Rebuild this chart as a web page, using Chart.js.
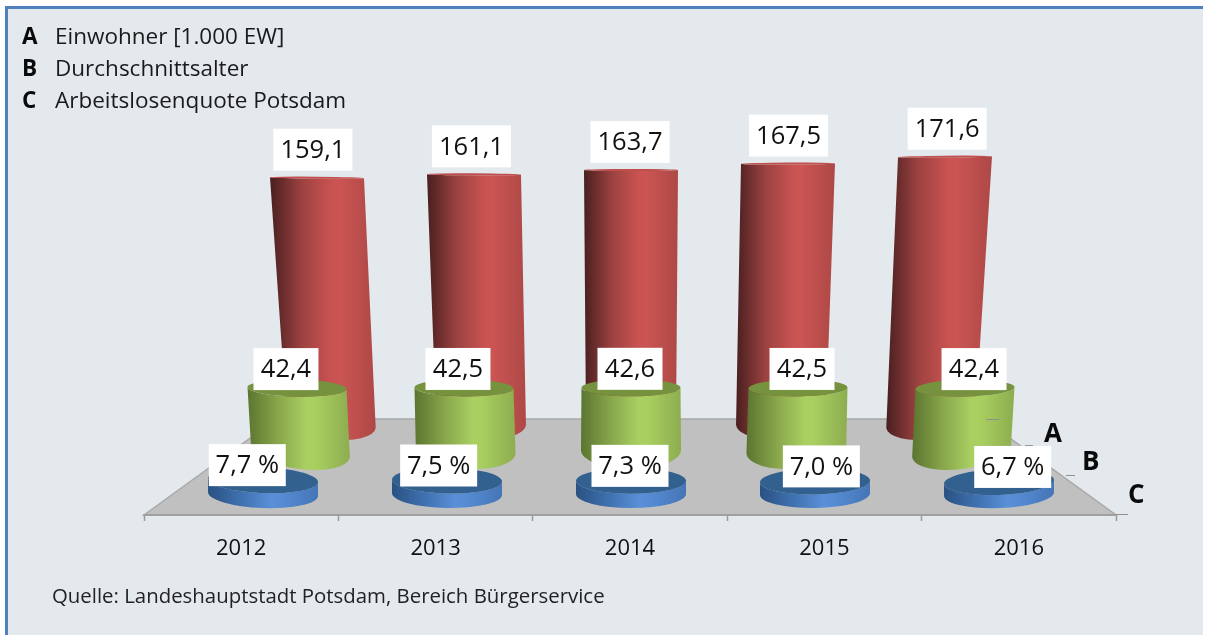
<!DOCTYPE html>
<html lang="de">
<head>
<meta charset="utf-8">
<title>Potsdam</title>
<script src="https://cdn.jsdelivr.net/npm/chart.js@4"></script>
<style>
html,body{margin:0;padding:0;background:#fff;width:1208px;height:635px;overflow:hidden}
#frame{position:absolute;left:5px;top:6px;width:1198px;height:629px;background:#e4e9ee;border-left:3px solid #4f81bd;border-top:3px solid #4f81bd;box-sizing:border-box}
canvas{position:absolute;left:0;top:0}
</style>
</head>
<body>
<div id="frame"></div>
<canvas id="c" width="1208" height="635"></canvas>
<script>
const years = ['2012', '2013', '2014', '2015', '2016'];
const einwohner = [159.1, 161.1, 163.7, 167.5, 171.6];
const durchschnittsalter = [42.4, 42.5, 42.6, 42.5, 42.4];
const arbeitslosenquote = [7.7, 7.5, 7.3, 7.0, 6.7];
const legendKeys = ['A', 'B', 'C'];
const legendTexts = ['Einwohner [1.000 EW]', 'Durchschnittsalter', 'Arbeitslosenquote Potsdam'];
const sourceText = 'Quelle: Landeshauptstadt Potsdam, Bereich B\u00fcrgerservice';

const FONT = '"Open Sans"';
const L = 144, R = 1116, B = 515;
const midYear = 2014;

function xRange(c, s) { return {type:'linear', display:false, offset:false, bounds:'data', min: midYear-(c-L)/s, max: midYear+(R-c)/s}; }
function yRange(zero, k) { return {type:'linear', display:false, bounds:'data', beginAtZero:false, min: -(B-zero)/k, max: zero/k}; }
const decimal = v => v.toFixed(1).replace('.', ',');

/* perspective settings per depth row */
const rows = [
  {base:{spread:.955, w:90, ry:17, tilt:.00043}, topRy:1, topTilt:.00003, topW:94,
   grad:['#4a1f1f','#9c4241','#c95351','#cb5553','#ad4846'], top:'#bd4f4d',
   labelSpread:1.01, labelDy:-28, labelW:79, labelH:42, labelC:630, fmt:decimal},
  {base:{spread:.99, w:100, ry:19, tilt:.00042}, topRy:8.5, topTilt:.00006, topW:99,
   grad:['#5b7530','#88a64b','#aad062','#a9cf60','#8dad50'], top:'#76923f',
   labelSpread:1.03, labelDy:-19, labelW:65, labelH:42, labelC:630, fmt:decimal},
  {base:{spread:1, w:110, ry:14, tilt:.0001}, topRy:13, topTilt:.0001, topW:110,
   grad:['#2a5182','#3f71b0','#5a90d8','#578cd4','#4475b6'], top:'#32608f',
   labelSpread:1.04, labelDy:-15, labelW:77, labelH:42, labelC:630, fmt:v => decimal(v)+' %'}
];

function tiltPt(cx, cy, rx, rot, sign) { return [cx+sign*rx*Math.cos(rot), cy+sign*rx*Math.sin(rot)]; }

function drawCylinder(ctx, el, row, c) {
  const dx = el.x-c;
  const bx = c+dx*row.base.spread, by = el.base;
  const brx = row.base.w/2, trx = row.topW/2;
  const bRot = -dx*row.base.tilt, tRot = -dx*row.topTilt;
  const tl = tiltPt(el.x, el.y, trx, tRot, -1), tr = tiltPt(el.x, el.y, trx, tRot, 1);
  const bl = tiltPt(bx, by, brx, bRot, -1), br = tiltPt(bx, by, brx, bRot, 1);
  const x0 = Math.min(tl[0], bl[0]), x1 = Math.max(tr[0], br[0]);
  const g = ctx.createLinearGradient(x0, 0, x1, 0);
  row.grad.forEach((col, i) => g.addColorStop([0,.3,.58,.66,1][i], col));
  ctx.beginPath();
  ctx.moveTo(tl[0], tl[1]);
  ctx.lineTo(bl[0], bl[1]);
  ctx.ellipse(bx, by, brx, row.base.ry, bRot, Math.PI, 0, true);
  ctx.lineTo(tr[0], tr[1]);
  ctx.ellipse(el.x, el.y, trx, row.topRy, tRot, 0, Math.PI, false);
  ctx.closePath();
  ctx.fillStyle = g;
  ctx.fill();
  ctx.beginPath();
  ctx.ellipse(el.x, el.y, trx, row.topRy, tRot, 0, Math.PI*2);
  ctx.fillStyle = row.top;
  ctx.fill();
}

const scene = {
  id:'scene',
  beforeDatasetDraw() { return false; },
  beforeDatasetsDraw(chart) {
    const ctx = chart.ctx, a = chart.chartArea;
    const backY = 419, slope = 1.38, bottom = a.bottom;
    const inset = (bottom-backY)*slope;
    ctx.save();
    ctx.beginPath();
    ctx.moveTo(a.left, bottom);
    ctx.lineTo(a.left+inset, backY);
    ctx.lineTo(a.right-inset, backY);
    ctx.lineTo(a.right, bottom);
    ctx.closePath();
    ctx.fillStyle = '#c0c0c0';
    ctx.fill();
    ctx.strokeStyle = '#a8a8a8';
    ctx.lineWidth = 1.5;
    ctx.stroke();
    ctx.strokeStyle = '#a0a0a0';
    ctx.lineWidth = 2;
    ctx.beginPath();
    ctx.moveTo(a.left, bottom);
    ctx.lineTo(a.right, bottom);
    ctx.stroke();
    ctx.restore();
  },
  afterDatasetsDraw(chart) {
    const ctx = chart.ctx, a = chart.chartArea;
    ctx.save();
    rows.forEach((row, i) => {
      chart.getDatasetMeta(i).data.forEach(el => drawCylinder(ctx, el, row, 631));
    });
    /* depth-axis tick marks */
    ctx.strokeStyle = '#8f8f8f';
    ctx.lineWidth = 1;
    [[986,999,419],[1025,1033,445],[1066,1075,475],[a.right,1128,514]].forEach(t => {
      ctx.beginPath(); ctx.moveTo(t[0], t[2]+.5); ctx.lineTo(t[1], t[2]+.5); ctx.stroke();
    });
    /* value labels */
    ctx.textAlign = 'center';
    ctx.textBaseline = 'middle';
    ctx.font = '25.5px '+FONT;
    rows.forEach((row, i) => {
      const values = chart.data.datasets[i].data;
      chart.getDatasetMeta(i).data.forEach((el, j) => {
        const cx = row.labelC+(el.x-631)*row.labelSpread, cy = el.y+row.labelDy;
        ctx.fillStyle = '#fff';
        ctx.fillRect(cx-row.labelW/2, cy-row.labelH/2, row.labelW, row.labelH);
        ctx.fillStyle = '#111';
        ctx.fillText(row.fmt(values[j]), cx, cy+1);
      });
    });
    /* depth letters, legend block, source */
    ctx.textBaseline = 'alphabetic';
    ctx.textAlign = 'left';
    ctx.fillStyle = '#0a0a0a';
    ctx.font = 'bold 26px '+FONT;
    legendKeys.forEach((k, i) => ctx.fillText(k, [1044,1082,1128][i], [442,470,503][i]));
    ctx.font = 'bold 22.5px '+FONT;
    legendKeys.forEach((k, i) => ctx.fillText(k, 22, 44+i*32));
    ctx.font = '22.5px '+FONT;
    ctx.fillStyle = '#1a1a1a';
    legendTexts.forEach((t, i) => ctx.fillText(t, 55, 44+i*32));
    ctx.font = '20.4px '+FONT;
    ctx.fillStyle = '#222';
    ctx.fillText(sourceText, 52, 603);
    ctx.restore();
  }
};

new Chart(document.getElementById('c'), {
  type:'bar',
  data:{
    labels:years,
    datasets:[
      {label:'Einwohner [1.000 EW]', data:einwohner, xAxisID:'xA', yAxisID:'yA', grouped:false, base:(445-422)/1.68, barThickness:94, backgroundColor:'#c95351'},
      {label:'Durchschnittsalter', data:durchschnittsalter, xAxisID:'xB', yAxisID:'yB', grouped:false, base:0, barThickness:99, backgroundColor:'#aad062'},
      {label:'Arbeitslosenquote Potsdam', data:arbeitslosenquote, xAxisID:'xC', yAxisID:'yC', grouped:false, base:0, barThickness:110, backgroundColor:'#5a90d8'}
    ]
  },
  options:{
    responsive:false,
    animation:false,
    events:[],
    layout:{padding:{left:L, right:1208-R, top:0, bottom:0}},
    plugins:{legend:{display:false}, title:{display:false}, tooltip:{enabled:false}},
    scales:{
      x:{
        type:'category', position:'bottom', offset:true,
        afterFit(s){ s.height = 635-B; },
        grid:{offset:true, drawOnChartArea:false, drawTicks:true, tickLength:6, tickColor:'#9a9a9a', tickWidth:1.5},
        border:{display:true, color:'#a4a4a4', width:2},
        ticks:{font:{family:'Open Sans', size:22}, color:'#111', padding:15, maxRotation:0}
      },
      xA:xRange(631,157), xB:xRange(631,167), xC:xRange(631,184),
      yA:yRange(445,1.68), yB:yRange(450,1.46), yC:yRange(494,1.8)
    }
  },
  plugins:[scene]
});
</script>
</body>
</html>
